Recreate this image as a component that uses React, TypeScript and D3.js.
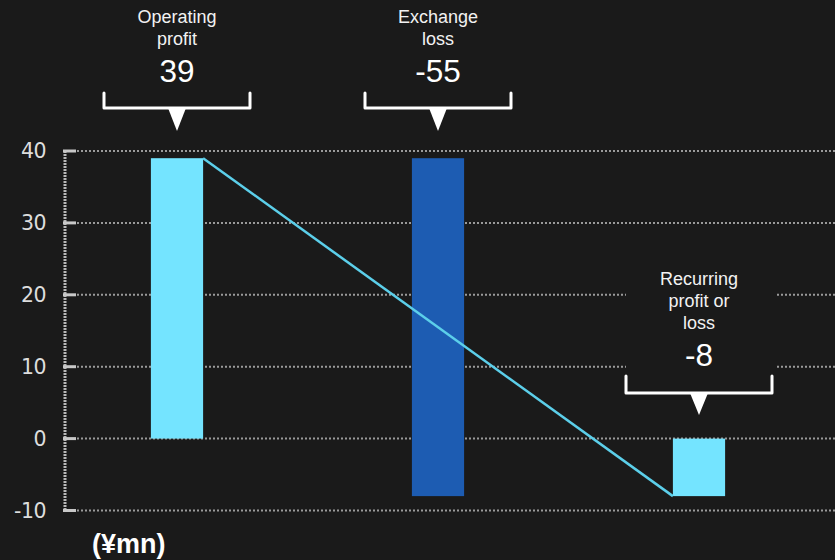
import React from "react";
import * as d3 from "d3";

const categories = ["Operating profit", "Exchange loss", "Recurring profit or loss"];
const labelLines = [["Operating", "profit"], ["Exchange", "loss"], ["Recurring", "profit or", "loss"]];
const displayValues = ["39", "-55", "-8"];
const barStart = [0, 39, 0];
const barEnd = [39, -8, -8];
const barColors = ["#74e4ff", "#1d5cb2", "#74e4ff"];
const yTicks = [40, 30, 20, 10, 0, -10];

const W = 835;
const H = 560;
const BG = "#1a1a1a";

export default function App() {
  const x = d3
    .scaleBand<string>()
    .domain(categories)
    .range([46.5, 829.5])
    .paddingInner(0.8)
    .paddingOuter(0.4);
  const y = d3.scaleLinear().domain([-10, 40]).range([510.5, 151]);
  const bw = x.bandwidth();

  const connector = d3.line<[number, number]>()([
    [x(categories[0])! + bw, y(barEnd[0])],
    [x(categories[2])!, y(barEnd[2])],
  ]);

  const labelFont = "'Liberation Sans', Arial, sans-serif";
  const tickFont = "'DejaVu Sans', sans-serif";

  const labelLayouts = [
    { lineY: [23, 45], valueY: 82, bracketTop: 93, bracketBottom: 108, triBottom: 131 },
    { lineY: [23, 45], valueY: 82, bracketTop: 93, bracketBottom: 108, triBottom: 131 },
    { lineY: [285, 307, 329], valueY: 366, bracketTop: 376, bracketBottom: 393, triBottom: 415 },
  ];
  const bracketHalf = 73;

  return (
    <svg
      width={W}
      height={H}
      style={{ position: "absolute", left: 0, top: 0, background: BG }}
    >
      <rect x={0} y={0} width={W} height={H} fill={BG} />
      {yTicks.map((t) => (
        <line
          key={"g" + t}
          x1={77}
          x2={W}
          y1={y(t)}
          y2={y(t)}
          stroke="#9a9a9a"
          strokeWidth={2}
          strokeDasharray="2,2"
        />
      ))}
      <line
        x1={65}
        x2={65}
        y1={y(40)}
        y2={y(-10)}
        stroke="#b8b8b8"
        strokeWidth={3}
        strokeDasharray="2,1"
      />
      {yTicks.map((t) => (
        <g key={"t" + t}>
          <line x1={63} x2={76} y1={y(t)} y2={y(t)} stroke="#c8c8c8" strokeWidth={3} />
          <text
            x={46}
            y={y(t)}
            dy="0.36em"
            textAnchor="end"
            fill="#dddddd"
            fontFamily={tickFont}
            fontSize={20.5}
            letterSpacing={-0.5}
          >
            {t}
          </text>
        </g>
      ))}
      {categories.map((c, i) => {
        const y0 = y(Math.max(barStart[i], barEnd[i]));
        const y1 = y(Math.min(barStart[i], barEnd[i]));
        return (
          <rect
            key={c}
            x={x(c)}
            y={y0}
            width={bw}
            height={y1 - y0}
            fill={barColors[i]}
          />
        );
      })}
      <path d={connector!} stroke="#5ccfea" strokeWidth={2.5} fill="none" />
      {categories.map((c, i) => {
        const cx = x(c)! + bw / 2;
        const L = labelLayouts[i];
        return (
          <g key={"l" + c}>
            {i === 2 && (
              <rect x={626} y={268} width={149} height={130} fill={BG} />
            )}
            {labelLines[i].map((ln, j) => (
              <text
                key={j}
                x={cx}
                y={L.lineY[j]}
                textAnchor="middle"
                fill="#f2f2f2"
                fontFamily={labelFont}
                fontSize={18}
              >
                {ln}
              </text>
            ))}
            <text
              x={cx}
              y={L.valueY}
              textAnchor="middle"
              fill="#ffffff"
              fontFamily={labelFont}
              fontSize={31.5}
            >
              {displayValues[i]}
            </text>
            <path
              d={`M${cx - bracketHalf},${L.bracketTop} V${L.bracketBottom} H${cx + bracketHalf} V${L.bracketTop}`}
              stroke="#ffffff"
              strokeWidth={3}
              fill="none"
              strokeLinejoin="round"
              strokeLinecap="round"
            />
            <path
              d={`M${cx - 9},${L.bracketBottom} L${cx + 9},${L.bracketBottom} L${cx},${L.triBottom} Z`}
              fill="#ffffff"
            />
          </g>
        );
      })}
      <text
        x={92}
        y={553}
        fill="#ffffff"
        fontFamily={labelFont}
        fontWeight="bold"
        fontSize={27}
      >
        (¥mn)
      </text>
    </svg>
  );
}
